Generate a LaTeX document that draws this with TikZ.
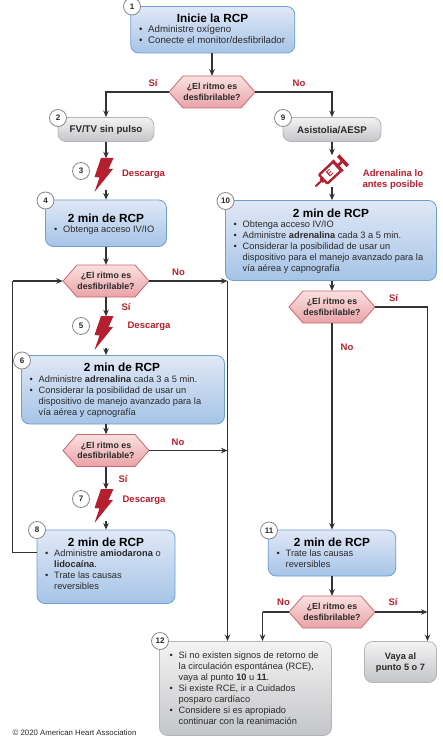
\documentclass[tikz,border=0pt]{standalone}
\usepackage{fontspec}
\setmainfont{Liberation Sans}
\usetikzlibrary{arrows.meta,calc}
\definecolor{inkc}{HTML}{2A2A2A}
\definecolor{linec}{HTML}{333333}
\definecolor{redc}{HTML}{B5202E}
\definecolor{bluetop}{HTML}{E0E8F6}
\definecolor{bluebot}{HTML}{A6C4E7}
\definecolor{blueedge}{HTML}{6E9FD2}
\definecolor{graytop}{HTML}{F3F3F3}
\definecolor{graybot}{HTML}{C4C5C8}
\definecolor{grayedge}{HTML}{B4B5B8}
\definecolor{pinktop}{HTML}{FBE0E0}
\definecolor{pinkbot}{HTML}{E9A3A7}
\definecolor{pinkedge}{HTML}{C8686F}
\definecolor{circedge}{HTML}{8A8A8A}
\newcommand{\bu}{\strut\makebox[9pt][l]{\raisebox{0.2pt}{•}}}
\newcommand{\nb}{\strut\hspace*{9pt}}
\tikzset{
  x=1pt,y=-1pt,
  bluebox/.style={draw=blueedge,line width=.8pt,rounded corners=8pt,top color=bluetop,bottom color=bluebot,inner sep=0pt},
  graybox/.style={draw=grayedge,line width=.8pt,rounded corners=8pt,top color=graytop,bottom color=graybot,inner sep=0pt},
  numc/.style={circle,draw=circedge,fill=white,line width=.8pt,minimum size=17pt,inner sep=0pt,font=\fontsize{8}{8}\selectfont\bfseries,text=inkc},
  titlet/.style={inner sep=0pt,font=\fontsize{11.8}{13}\selectfont\bfseries,text=black},
  bodyt/.style={inner sep=0pt,anchor=west,align=left,font=\fontsize{9.25}{11}\selectfont,text=inkc},
  boldt/.style={inner sep=0pt,align=center,font=\fontsize{9.2}{11}\selectfont\bfseries,text=inkc},
  dect/.style={inner sep=0pt,align=center,minimum width=86pt,minimum height=32pt,font=\fontsize{8.8}{11}\selectfont\bfseries,text=inkc},
  redt/.style={inner sep=0pt,align=center,font=\fontsize{9.5}{11}\selectfont\bfseries,text=redc},
  conn/.style={draw=linec,line width=1.1pt},
  arr/.style={conn,-{Stealth[length=6.5pt,width=5.5pt]}},
  hold/.style={inner sep=0pt,minimum width=20pt,minimum height=31pt},
  decfill/.style={draw=pinkedge,line width=.8pt,top color=pinktop,bottom color=pinkbot,line join=round},
}
\newcommand{\decision}[3]{%
  \path[decfill] ($(#2,#3)+(-43,0)$) -- ($(#2,#3)+(-29,-16)$) -- ($(#2,#3)+(29,-16)$) -- ($(#2,#3)+(43,0)$) -- ($(#2,#3)+(29,16)$) -- ($(#2,#3)+(-29,16)$) -- cycle;
  \node[dect] (#1) at (#2,#3) {¿El ritmo es\\[-0.5pt]desfibrilable?};}
\newcommand{\bolt}[3]{%
  \fill[redc] ($(#2,#3)+(-5,-16)$) -- ($(#2,#3)+(7.5,-16)$) -- ($(#2,#3)+(2.5,-5)$) -- ($(#2,#3)+(7,-5)$) -- ($(#2,#3)+(-11.5,18)$) -- ($(#2,#3)+(-6.5,3.5)$) -- ($(#2,#3)+(-11.5,3)$) -- cycle;
  \node[hold] (#1) at (#2,#3) {};}
\begin{document}
\begin{tikzpicture}
\useasboundingbox (0,0) rectangle (442,751);
\fill[white] (0,0) rectangle (442,751);

% coordinates for free ends
\coordinate (ja) at (227.5,281);
\coordinate (jb) at (227.5,450.5);
\coordinate (ta) at (227.5,641);
\coordinate (tb) at (262.5,641);
\coordinate (tc) at (427.5,641);
\coordinate (jc) at (427.5,612);
\coordinate (jd) at (427.5,307);
\coordinate (je) at (262.5,612);
\coordinate (lt) at (12.5,281);
\coordinate (lb) at (12.5,552.5);

% boxes
\node[bluebox,minimum width=164pt,minimum height=46.5pt] (b1) at (212.75,29.75) {};
\node[graybox,minimum width=96pt,minimum height=24pt] (b2) at (106,129.5) {};
\node[graybox,minimum width=98pt,minimum height=24pt] (b9) at (332,129.5) {};
\node[bluebox,minimum width=121pt,minimum height=46.5pt] (b4) at (106,223.25) {};
\node[bluebox,minimum width=211pt,minimum height=80pt] (b10) at (331,240.5) {};
\node[bluebox,minimum width=203pt,minimum height=68.5pt] (b6) at (123,389.75) {};
\node[bluebox,minimum width=138pt,minimum height=73.5pt] (b8) at (106,566.75) {};
\node[bluebox,minimum width=127.5pt,minimum height=46pt] (b11) at (332,553) {};
\node[graybox,minimum width=172pt,minimum height=94pt] (b12) at (245.5,688.5) {};
\node[graybox,minimum width=72pt,minimum height=41pt] (b13) at (400.5,662) {};

% decisions
\decision{d1}{212}{92}
\decision{d2}{106}{281}
\decision{d3}{106}{450.5}
\decision{d4}{332}{307}
\decision{d5}{332}{612}

% bolts
\bolt{s3}{106}{174}
\bolt{s5}{106}{332}
\bolt{s7}{106}{505}

% syringe
\node[hold] (sy) at (332,171) {};
\begin{scope}[shift={(332,171)},rotate=43]
  \draw[redc,line width=2pt,line cap=round] (-22,0) -- (-12,0);
  \draw[redc,line width=2.4pt,fill=white,rounded corners=.8pt] (-12,-6) rectangle (7,6);
  \fill[redc] (-12,-3) -- (-15,-2) -- (-15,2) -- (-12,3) -- cycle;
  \draw[redc,line width=2.6pt] (7,0) -- (14,0);
  \draw[redc,line width=3pt] (7.5,-7.5) -- (7.5,7.5);
  \draw[redc,line width=3.6pt] (15,-7) -- (15,7);
  \node[inner sep=0pt,rotate=43,text=redc,font=\fontsize{9}{9}\selectfont\bfseries] (sye) at (-3,0) {E};
\end{scope}

% connectors
\draw[arr] (b1.south -| d1.north) -- (d1.north);
\draw[arr] (d1.west) -| (b2.north);
\draw[arr] (d1.east) -| (b9.north);
\draw[arr] (b2.south) -- (s3.north);
\draw[arr] (s3.south) -- (b4.north);
\draw[arr] (b4.south) -- (d2.north);
\draw[arr] (d2.south) -- (s5.north);
\draw[arr] (s5.south) -- (s5.south |- b6.north);
\draw[arr] (d3.north |- b6.south) -- (d3.north);
\draw[arr] (d3.south) -- (s7.north);
\draw[arr] (s7.south) -- (b8.north);
\draw[conn] (b8.west |- lb) -- (lb) -- (lt);
\draw[arr] (lt) -- (d2.west);
\draw[arr] (d2.east) -- (ja);
\draw[arr] (d3.east) -- (jb);
\draw[arr] (ja) -- (ta);
\draw[arr] (b9.south) -- (sy.north);
\draw[arr] (sy.south) -- (sy.south |- b10.north);
\draw[arr] (d4.north |- b10.south) -- (d4.north);
\draw[arr] (d4.south) -- (b11.north);
\draw[arr] (b11.south) -- (d5.north);
\draw[conn] (d4.east) -- (jd);
\draw[arr] (jd) -- (tc);
\draw[arr] (d5.east) -- (jc);
\draw[conn] (d5.west) -- (je);
\draw[arr] (je) -- (tb);

% texts
\node[titlet] (t1) at (212.5,18.5) {Inicie la RCP};
\node[bodyt,font=\fontsize{9.7}{11}\selectfont] (x1) at (139,36.2) {\bu Administre oxígeno\\\bu Conecte el monitor/desfibrilador};
\node[boldt] (t2) at (106,130) {\fontsize{9.7}{11}\selectfont FV/TV sin pulso};
\node[boldt] (t9) at (332,130) {\fontsize{9.7}{11}\selectfont Asistolia/AESP};
\node[titlet] (t4) at (106,218) {2 min de RCP};
\node[bodyt] (x4) at (54,230) {\bu Obtenga acceso IV/IO};
\node[titlet] (t10) at (331,213) {2 min de RCP};
\node[bodyt] (x10) at (233.5,247) {\bu Obtenga acceso IV/IO\\\bu Administre \textbf{adrenalina} cada 3 a 5 min.\\\bu Considerar la posibilidad de usar un\\\nb dispositivo para el manejo avanzado para la\\\nb vía aérea y capnografía};
\node[titlet] (t6) at (122,367.5) {2 min de RCP};
\node[bodyt] (x6) at (29.5,396.5) {\bu Administre \textbf{adrenalina} cada 3 a 5 min.\\\bu Considerar la posibilidad de usar un\\\nb dispositivo de manejo avanzado para la\\\nb vía aérea y capnografía};
\node[titlet] (t8) at (106,542) {2 min de RCP};
\node[bodyt] (x8) at (45,570.5) {\bu Administre \textbf{amiodarona} o\\\nb \textbf{lidocaína}.\\\bu Trate las causas\\\nb reversibles};
\node[titlet] (t11) at (332,542) {2 min de RCP};
\node[bodyt] (x11) at (276.5,559.5) {\bu Trate las causas\\\nb reversibles};
\node[bodyt] (x12) at (169.5,689.3) {\bu Si no existen signos de retorno de\\\nb la circulación espontánea (RCE),\\\nb vaya al punto \textbf{10} u \textbf{11}.\\\bu Si existe RCE, ir a Cuidados\\\nb posparo cardíaco\\\bu Considere si es apropiado\\\nb continuar con la reanimación};
\node[boldt] (t13) at (400.5,662.5) {Vaya al\\punto 5 o 7};
\node[inner sep=0pt,anchor=west,font=\fontsize{7.8}{8}\selectfont,text=inkc] (foot) at (12.5,733) {© 2020 American Heart Association};

% red labels
\node[redt] (l1) at (153,83) {Sí};
\node[redt] (l2) at (299,83) {No};
\node[redt] (l3) at (143.5,174) {Descarga};
\node[redt] (l4) at (393,179.5) {Adrenalina lo\\antes posible};
\node[redt] (l5) at (178.5,272) {No};
\node[redt] (l6) at (126,307) {Sí};
\node[redt] (l7) at (149,326.5) {Descarga};
\node[redt] (l8) at (178,442) {No};
\node[redt] (l9) at (123,479) {Sí};
\node[redt] (l10) at (144,500.5) {Descarga};
\node[redt] (l11) at (393.5,298) {Sí};
\node[redt] (l12) at (347,347) {No};
\node[redt] (l13) at (283.5,602) {No};
\node[redt] (l14) at (393,602) {Sí};

% step numbers
\node[numc] (n1) at (132,6.5) {1};
\node[numc] (n2) at (58,118) {2};
\node[numc] (n3) at (81,171) {3};
\node[numc] (n4) at (45.5,200.5) {4};
\node[numc] (n5) at (81,326) {5};
\node[numc] (n6) at (22,360.5) {6};
\node[numc] (n7) at (81,499) {7};
\node[numc] (n8) at (37,530) {8};
\node[numc] (n9) at (283,118) {9};
\node[numc] (n10) at (225.5,201) {10};
\node[numc] (n11) at (269,530.5) {11};
\node[numc] (n12) at (160,641) {12};
\end{tikzpicture}
\end{document}
